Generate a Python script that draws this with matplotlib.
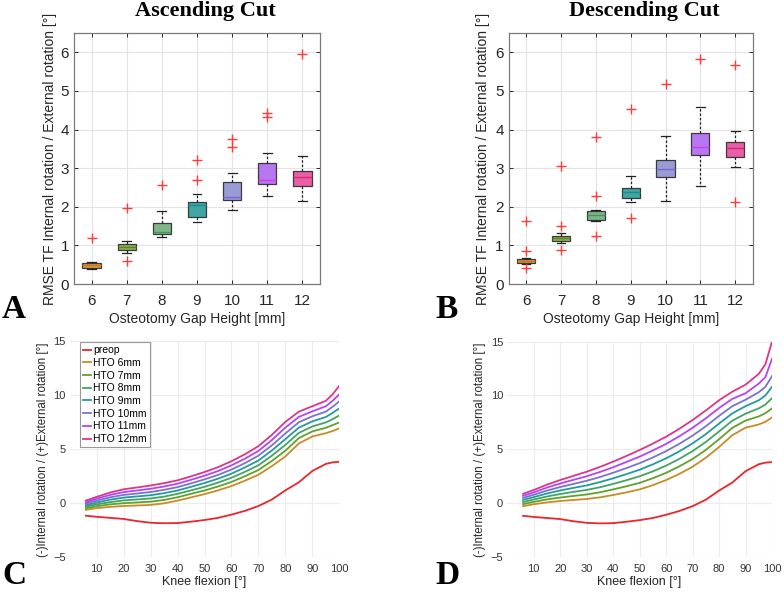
import numpy as np
import matplotlib
matplotlib.use('Agg')
import matplotlib.pyplot as plt

plt.rcParams['font.family'] = ['Liberation Sans', 'DejaVu Sans']

# ---- data ----
gaps = [6, 7, 8, 9, 10, 11, 12]

# ascending cut, boxplot stats (deg)
asc_whislo = [0.38, 0.81, 1.21, 1.60, 1.92, 2.29, 2.16]
asc_q1 = [0.42, 0.88, 1.29, 1.73, 2.17, 2.59, 2.55]
asc_med = [0.48, 0.97, 1.34, 2.05, 2.25, 2.70, 2.78]
asc_q3 = [0.54, 1.03, 1.57, 2.12, 2.65, 3.14, 2.93]
asc_whishi = [0.58, 1.12, 1.90, 2.32, 2.88, 3.38, 3.32]
asc_fliers = [[1.20], [1.96, 0.60], [2.56], [3.20, 2.70], [3.75, 3.56], [4.43, 4.32], [5.96]]

# descending cut
desc_whislo = [0.52, 1.07, 1.62, 2.12, 2.15, 2.54, 3.03]
desc_q1 = [0.54, 1.11, 1.66, 2.22, 2.77, 3.33, 3.30]
desc_med = [0.59, 1.19, 1.78, 2.38, 2.97, 3.55, 3.52]
desc_q3 = [0.66, 1.25, 1.88, 2.49, 3.21, 3.90, 3.69]
desc_whishi = [0.68, 1.32, 1.92, 2.80, 3.82, 4.59, 3.95]
desc_fliers = [[1.63, 0.85, 0.41], [3.05, 1.49, 0.87], [3.80, 2.28, 1.25], [4.54, 1.72],
               [5.19], [5.83], [5.68, 2.12]]

box_colors = ['#e0953d', '#8cb052', '#7fb58b', '#3fa6a4', '#9a9bd6', '#b877f2', '#e95ea7']
med_colors = ['#c47a1c', '#4f8a20', '#3d9a5a', '#1b8f8c', '#7c66c8', '#d03ce0', '#d82a6a']

# knee flexion curves
flexion = [6, 10, 15, 20, 25, 30, 35, 40, 45, 50, 55, 60, 65, 70, 75, 80, 85, 90, 95, 97.5, 100]

preop = [-1.2, -1.3, -1.4, -1.5, -1.7, -1.85, -1.9, -1.88, -1.75, -1.6, -1.4, -1.1, -0.75, -0.3,
         0.3, 1.15, 1.9, 2.95, 3.6, 3.75, 3.8]

asc_6 = [-0.65, -0.5, -0.38, -0.3, -0.25, -0.2, -0.05, 0.2, 0.5, 0.8, 1.15, 1.55, 2.05, 2.6, 3.4, 4.3, 5.5, 6.15, 6.45, 6.65, 6.9]
asc_7 = [-0.5, -0.32, -0.15, -0.04, 0.03, 0.1, 0.26, 0.51, 0.83, 1.14, 1.51, 1.93, 2.46, 3.04, 3.88, 4.83, 6.0, 6.62, 6.95, 7.2, 7.45]
asc_8 = [-0.35, -0.15, 0.06, 0.22, 0.31, 0.4, 0.57, 0.83, 1.15, 1.48, 1.87, 2.32, 2.87, 3.48, 4.37, 5.37, 6.48, 7.08, 7.45, 7.75, 8.1]
asc_9 = [-0.22, 0.02, 0.29, 0.48, 0.59, 0.7, 0.89, 1.14, 1.48, 1.83, 2.23, 2.7, 3.28, 3.92, 4.85, 5.9, 6.97, 7.55, 7.95, 8.33, 8.75]
asc_10 = [-0.08, 0.2, 0.51, 0.73, 0.86, 1.0, 1.2, 1.45, 1.8, 2.17, 2.58, 3.08, 3.68, 4.37, 5.33, 6.43, 7.47, 8.02, 8.45, 8.9, 9.4]
asc_11 = [0.05, 0.38, 0.73, 0.99, 1.14, 1.3, 1.51, 1.77, 2.13, 2.51, 2.94, 3.47, 4.09, 4.81, 5.82, 6.97, 7.96, 8.48, 8.95, 9.45, 10.05]
asc_12 = [0.2, 0.55, 0.95, 1.25, 1.42, 1.6, 1.82, 2.08, 2.45, 2.85, 3.3, 3.85, 4.5, 5.25, 6.3, 7.5, 8.45, 8.95, 9.45, 10.05, 10.85]

desc_6 = [-0.3, -0.12, 0.05, 0.18, 0.28, 0.37, 0.52, 0.74, 0.98, 1.26, 1.65, 2.13, 2.7, 3.37, 4.2, 5.2, 6.3, 7.0, 7.3, 7.55, 7.95]
desc_7 = [-0.11, 0.1, 0.33, 0.5, 0.65, 0.79, 0.99, 1.26, 1.55, 1.87, 2.3, 2.8, 3.4, 4.09, 4.93, 5.93, 6.98, 7.66, 8.05, 8.35, 8.8]
desc_8 = [0.08, 0.32, 0.6, 0.83, 1.03, 1.21, 1.46, 1.77, 2.11, 2.48, 2.94, 3.47, 4.1, 4.82, 5.67, 6.65, 7.65, 8.3, 8.8, 9.15, 9.75]
desc_9 = [0.28, 0.54, 0.88, 1.16, 1.4, 1.63, 1.94, 2.29, 2.68, 3.09, 3.59, 4.15, 4.8, 5.54, 6.4, 7.38, 8.33, 9.0, 9.55, 10.0, 10.8]
desc_10 = [0.47, 0.76, 1.15, 1.48, 1.77, 2.06, 2.41, 2.81, 3.24, 3.7, 4.23, 4.82, 5.5, 6.26, 7.13, 8.1, 9.0, 9.6, 10.3, 10.8, 11.8]
desc_11 = [0.66, 0.98, 1.43, 1.81, 2.15, 2.48, 2.88, 3.32, 3.81, 4.31, 4.88, 5.49, 6.2, 6.99, 7.87, 8.83, 9.68, 10.2, 11.1, 11.7, 13.4]
desc_12 = [0.85, 1.2, 1.7, 2.13, 2.52, 2.9, 3.35, 3.84, 4.37, 4.92, 5.52, 6.16, 6.9, 7.71, 8.6, 9.55, 10.35, 11.0, 12.0, 12.9, 15.0]

curve_labels = ['preop', 'HTO 6mm', 'HTO 7mm', 'HTO 8mm', 'HTO 9mm', 'HTO 10mm', 'HTO 11mm', 'HTO 12mm']
curve_colors = ['#e8262e', '#c98b27', '#62a02c', '#45a361', '#229c9a', '#7873cf', '#b444f5', '#de3489']

asc_curves = [preop, asc_6, asc_7, asc_8, asc_9, asc_10, asc_11, asc_12]
desc_curves = [preop, desc_6, desc_7, desc_8, desc_9, desc_10, desc_11, desc_12]

# ---- figure ----
fig = plt.figure(figsize=(7.84, 5.92), dpi=100)
W, H = 784.0, 592.0


def px_axes(l, t, r, b):
    return fig.add_axes([l / W, 1 - b / H, (r - l) / W, (b - t) / H])


def box_panel(ax, whislo, q1, med, q3, whishi, fliers):
    stats = []
    for i in range(len(gaps)):
        stats.append(dict(whislo=whislo[i], q1=q1[i], med=med[i], q3=q3[i],
                          whishi=whishi[i], fliers=fliers[i]))
    bp = ax.bxp(stats, positions=gaps, widths=0.52, patch_artist=True,
                boxprops=dict(edgecolor='#3a3a3a', linewidth=0.9),
                whiskerprops=dict(color='#222222', linestyle=(0, (2, 1.5)), linewidth=0.9),
                capprops=dict(color='#222222', linewidth=0.9),
                flierprops=dict(marker='+', markeredgecolor='#ff3b3b', markersize=7, markeredgewidth=1.0),
                capwidths=0.25, zorder=3)
    for patch, c in zip(bp['boxes'], box_colors):
        patch.set_facecolor(c)
    for m, c in zip(bp['medians'], med_colors):
        m.set_color(c)
        m.set_linewidth(1.0)
    ax.set_xlim(5.5, 12.5)
    ax.set_ylim(0, 6.5)
    ax.set_xticks(gaps)
    ax.set_yticks([0, 1, 2, 3, 4, 5, 6])
    ax.grid(True, color='#e3e3e3', linewidth=0.8)
    ax.set_axisbelow(True)
    ax.tick_params(direction='in', length=3, top=True, right=True, labelsize=11,
                   colors='#262626', width=0.7)
    ax.tick_params(axis='x', pad=7)
    for s in ax.spines.values():
        s.set_color('#7a7a7a')
        s.set_linewidth(0.9)


def curve_panel(ax, curves, legend):
    for ys, lab, c in zip(curves, curve_labels, curve_colors):
        ax.plot(flexion, ys, color=c, linewidth=1.3, label=lab)
    ax.set_xlim(0, 100)
    ax.set_ylim(-5, 15)
    ax.set_xticks([10, 20, 30, 40, 50, 60, 70, 80, 90, 100])
    ax.set_yticks([-5, 0, 5, 10, 15])
    ax.grid(True, color='#ececec', linewidth=0.8)
    ax.set_axisbelow(True)
    ax.tick_params(length=0, labelsize=8, colors='#333333')
    ax.tick_params(axis='x', pad=5)
    ax.tick_params(axis='y', pad=3)
    for s in ax.spines.values():
        s.set_visible(False)
    if legend:
        lg = ax.legend(loc='upper left', bbox_to_anchor=(0.038, 0.995), borderaxespad=0,
                       fontsize=7.5, handlelength=0.8, handletextpad=0.2, labelspacing=0.26,
                       fancybox=False, framealpha=1, edgecolor='#9a9a9a', borderpad=0.3)
        lg.get_frame().set_linewidth(0.8)


ax_a = px_axes(74, 33, 320, 284)
box_panel(ax_a, asc_whislo, asc_q1, asc_med, asc_q3, asc_whishi, asc_fliers)
ax_b = px_axes(508.7, 33, 752.7, 284)
box_panel(ax_b, desc_whislo, desc_q1, desc_med, desc_q3, desc_whishi, desc_fliers)

ax_c = px_axes(69.7, 341, 339.3, 556.7)
curve_panel(ax_c, asc_curves, True)
ax_d = px_axes(507.2, 341.7, 772, 556.7)
curve_panel(ax_d, desc_curves, False)

# titles
serif = ['Liberation Serif', 'DejaVu Serif']
fig.text(205 / W, 1 - 16 / H, 'Ascending Cut', family=serif, weight='bold', fontsize=16,
         ha='center', va='baseline')
fig.text(644.5 / W, 1 - 16 / H, 'Descending Cut', family=serif, weight='bold', fontsize=16,
         ha='center', va='baseline')

# axis labels
ylab_top = 'RMSE TF Internal rotation / External rotation [°]'
fig.text(50 / W, 1 - 159 / H, ylab_top, rotation=90, ha='center', va='center', fontsize=10, color='#262626')
fig.text(483 / W, 1 - 159 / H, ylab_top, rotation=90, ha='center', va='center', fontsize=10, color='#262626')
fig.text(197 / W, 1 - 319 / H, 'Osteotomy Gap Height [mm]', ha='center', va='center', fontsize=10, color='#262626')
fig.text(631 / W, 1 - 319 / H, 'Osteotomy Gap Height [mm]', ha='center', va='center', fontsize=10, color='#262626')

ylab_bot = '(-)Internal rotation / (+)External rotation [°]'
fig.text(43 / W, 1 - 450 / H, ylab_bot, rotation=90, ha='center', va='center', fontsize=8.3, color='#262626')
fig.text(480 / W, 1 - 450 / H, ylab_bot, rotation=90, ha='center', va='center', fontsize=8.3, color='#262626')
fig.text(204 / W, 1 - 582.5 / H, 'Knee flexion [°]', ha='center', va='center', fontsize=9, color='#262626')
fig.text(639 / W, 1 - 582.5 / H, 'Knee flexion [°]', ha='center', va='center', fontsize=9, color='#262626')

# panel letters
for lx, ly, letter in [(14, 309, 'A'), (447, 309, 'B'), (14, 576, 'C'), (447, 576, 'D')]:
    fig.text(lx / W, 1 - ly / H, letter, family=serif, weight='bold', fontsize=24,
             ha='center', va='center')

fig.savefig('out.png', dpi=100)
